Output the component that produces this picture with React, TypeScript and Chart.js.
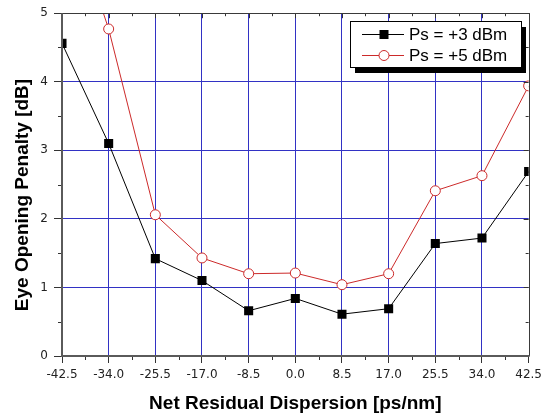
import React, { useEffect, useRef } from 'react';
import { Chart, registerables } from 'chart.js';

Chart.register(...registerables);

// ---- data ----
const dispersion = [-42.5, -34.0, -25.5, -17.0, -8.5, 0.0, 8.5, 17.0, 25.5, 34.0, 42.5];
const penaltyPs3 = [4.56, 3.1, 1.42, 1.1, 0.66, 0.84, 0.61, 0.69, 1.64, 1.72, 2.69];
const penaltyPs5 = [6.8, 4.77, 2.06, 1.43, 1.2, 1.21, 1.04, 1.2, 2.41, 2.63, 3.94];
const seriesLabels = ['Ps = +3 dBm', 'Ps = +5 dBm'];
const xTitle = 'Net Residual Dispersion [ps/nm]';
const yTitle = 'Eye Opening Penalty [dB]';
const xMin = -42.5;
const xMax = 42.5;
const xStep = 8.5;
const yMin = 0;
const yMax = 5;
const yStep = 1;

const GRID = '#3232c4';
const TICK = '#333333';
const RED = '#cc2a2a';

const decorPlugin = {
  id: 'decor',
  afterDatasetsDraw(chart: any) {
    const { ctx, chartArea: a, scales } = chart;
    const x = scales.x;
    const y = scales.y;
    ctx.save();
    ctx.strokeStyle = TICK;
    ctx.lineWidth = 1;
    ctx.beginPath();
    for (let v = xMin + xStep / 2; v < xMax; v += xStep) {
      const px = Math.round(x.getPixelForValue(v)) + 0.5;
      ctx.moveTo(px, a.bottom);
      ctx.lineTo(px, a.bottom + 4);
      ctx.moveTo(px, a.top);
      ctx.lineTo(px, a.top + 3);
    }
    for (let v = xMin; v <= xMax + 1e-9; v += xStep) {
      const px = Math.round(x.getPixelForValue(v)) + 0.5;
      ctx.moveTo(px, a.top);
      ctx.lineTo(px, a.top + 5);
    }
    for (let v = yMin + yStep / 2; v < yMax; v += yStep) {
      const py = Math.round(y.getPixelForValue(v)) + 0.5;
      ctx.moveTo(a.left, py);
      ctx.lineTo(a.left - 4, py);
      ctx.moveTo(a.right, py);
      ctx.lineTo(a.right - 3, py);
    }
    for (let v = yMin; v <= yMax + 1e-9; v += yStep) {
      const py = Math.round(y.getPixelForValue(v)) + 0.5;
      ctx.moveTo(a.right, py);
      ctx.lineTo(a.right - 5, py);
    }
    ctx.stroke();

    // frame
    ctx.strokeStyle = '#3a3a3a';
    ctx.lineWidth = 1;
    ctx.beginPath();
    ctx.moveTo(a.left, Math.round(a.top) + 0.5);
    ctx.lineTo(a.right + 0.5, Math.round(a.top) + 0.5);
    ctx.moveTo(Math.round(a.right) + 0.5, a.top);
    ctx.lineTo(Math.round(a.right) + 0.5, a.bottom);
    ctx.stroke();
    ctx.strokeStyle = '#5a5a5a';
    ctx.lineWidth = 2;
    ctx.beginPath();
    ctx.moveTo(Math.round(a.left), a.top);
    ctx.lineTo(Math.round(a.left), Math.round(a.bottom) + 1);
    ctx.moveTo(Math.round(a.left) - 1, Math.round(a.bottom));
    ctx.lineTo(a.right + 1, Math.round(a.bottom));
    ctx.stroke();

    // legend with drop shadow
    const bw = 171;
    const bh = 46;
    const bx = Math.round(a.right) - 8 - bw;
    const by = Math.round(a.top) + 8;
    ctx.fillStyle = '#000';
    ctx.fillRect(bx + 5, by + 6, bw, bh);
    ctx.fillStyle = '#fff';
    ctx.fillRect(bx, by, bw, bh);
    ctx.strokeStyle = '#000';
    ctx.lineWidth = 1;
    ctx.strokeRect(bx + 0.5, by + 0.5, bw, bh);
    const dsets = chart.data.datasets;
    dsets.forEach((ds: any, i: number) => {
      const cy = by + 13 + i * 21;
      const lx0 = bx + 12;
      const lx1 = bx + 54;
      const mx = bx + 34;
      ctx.strokeStyle = ds.borderColor;
      ctx.lineWidth = 1;
      ctx.beginPath();
      ctx.moveTo(lx0, cy + 0.5);
      ctx.lineTo(lx1, cy + 0.5);
      ctx.stroke();
      if (ds.pointStyle === 'rect') {
        ctx.fillStyle = ds.pointBackgroundColor;
        ctx.fillRect(mx - 4.5, cy - 4, 9, 9);
      } else {
        ctx.fillStyle = '#fff';
        ctx.beginPath();
        ctx.arc(mx, cy + 0.5, 5, 0, Math.PI * 2);
        ctx.fill();
        ctx.strokeStyle = ds.pointBorderColor;
        ctx.stroke();
      }
      ctx.fillStyle = '#000';
      ctx.font = '17px "Liberation Sans", Arial, sans-serif';
      ctx.textAlign = 'left';
      ctx.textBaseline = 'middle';
      ctx.fillText(ds.label, bx + 59, cy + 1);
    });

    // axis titles
    ctx.fillStyle = '#000';
    ctx.font = 'bold 19px "Liberation Sans", Arial, sans-serif';
    ctx.textAlign = 'center';
    ctx.textBaseline = 'alphabetic';
    ctx.fillText(xTitle, (a.left + a.right) / 2, 409);
    ctx.save();
    ctx.translate(28, 195);
    ctx.rotate(-Math.PI / 2);
    ctx.fillText(yTitle, 0, 0);
    ctx.restore();
    ctx.restore();
  },
};

export default function App() {
  const ref = useRef<HTMLCanvasElement | null>(null);
  useEffect(() => {
    if (!ref.current) return;
    const tickFont = { family: '"DejaVu Sans", sans-serif', size: 12 };
    const chart = new Chart(ref.current, {
      type: 'scatter',
      data: {
        datasets: [
          {
            label: seriesLabels[0],
            data: dispersion.map((d, i) => ({ x: d, y: penaltyPs3[i] })),
            showLine: true,
            borderColor: '#000',
            borderWidth: 1,
            pointStyle: 'rect',
            pointRadius: 6.4,
            pointBackgroundColor: '#000',
            pointBorderColor: '#000',
            pointBorderWidth: 0,
            clip: 0,
          } as any,
          {
            label: seriesLabels[1],
            data: dispersion.map((d, i) => ({ x: d, y: penaltyPs5[i] })),
            showLine: true,
            borderColor: RED,
            borderWidth: 1,
            pointStyle: 'circle',
            pointRadius: 5,
            pointBackgroundColor: '#fff',
            pointBorderColor: RED,
            pointBorderWidth: 1,
            clip: 0,
          } as any,
        ],
      },
      options: {
        animation: false,
        responsive: true,
        maintainAspectRatio: false,
        layout: { padding: { top: 13, right: 17, left: 0, bottom: 0 } },
        plugins: { legend: { display: false }, tooltip: { enabled: false } },
        scales: {
          x: {
            type: 'linear',
            min: xMin,
            max: xMax,
            afterFit: (s: any) => { s.height = 57; },
            border: { display: false },
            grid: {
              color: (c: any) => (c.tick && (Math.abs(c.tick.value - xMin) < 1e-6 || Math.abs(c.tick.value - xMax) < 1e-6) ? 'rgba(0,0,0,0)' : GRID),
              lineWidth: 1,
              drawTicks: true,
              tickLength: 7,
              tickColor: TICK,
            },
            ticks: {
              stepSize: xStep,
              autoSkip: false,
              maxRotation: 0,
              padding: 5,
              color: '#222',
              font: tickFont,
              callback: (v: any) => Number(v).toFixed(1),
            },
          },
          y: {
            type: 'linear',
            min: yMin,
            max: yMax,
            afterFit: (s: any) => { s.width = 62; },
            border: { display: false },
            grid: {
              color: (c: any) => (c.tick && (Math.abs(c.tick.value - yMin) < 1e-6 || Math.abs(c.tick.value - yMax) < 1e-6) ? 'rgba(0,0,0,0)' : GRID),
              lineWidth: 1,
              drawTicks: true,
              tickLength: 8,
              tickColor: TICK,
            },
            ticks: {
              stepSize: yStep,
              padding: 6,
              color: '#222',
              font: tickFont,
              callback: (v: any) => String(v),
            },
          },
        },
      },
      plugins: [decorPlugin],
    });
    return () => chart.destroy();
  }, []);
  return (
    <div style={{ position: 'absolute', left: 0, top: 0, width: 547, height: 413, background: '#fff' }}>
      <canvas ref={ref} />
    </div>
  );
}
